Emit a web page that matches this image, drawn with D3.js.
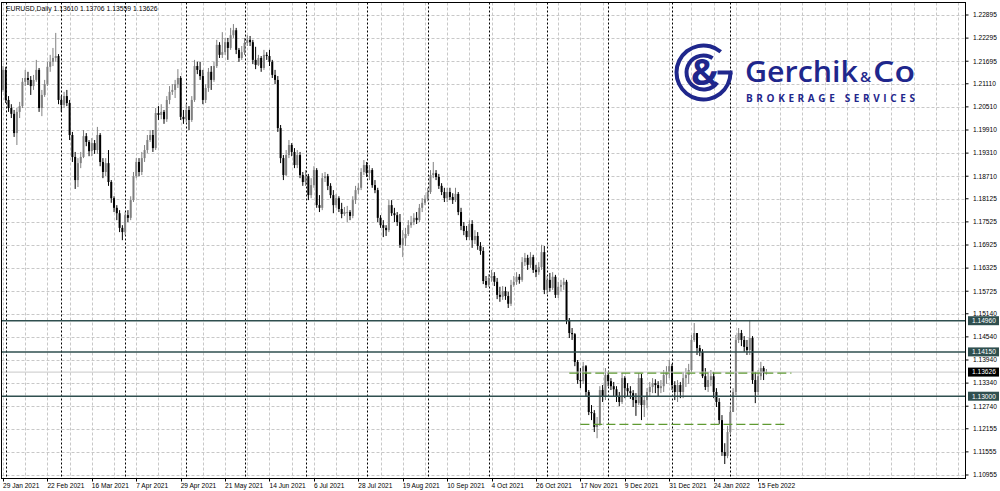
<!DOCTYPE html>
<html><head><meta charset="utf-8">
<script src="https://cdn.jsdelivr.net/npm/d3@7"></script>
<style>html,body{margin:0;padding:0;background:#fff;}svg{display:block;}</style>
</head><body>
<svg id="c" width="1000" height="491"></svg>
<script>
const symbolTitle = "EURUSD,Daily";
const lastQuote = [1.13610, 1.13706, 1.13559, 1.13626];

const open = [
1.2095,1.2147,1.2069,1.2048,1.2033,1.1983,1.2038,1.2053,1.2116,1.2126,
1.2121,1.2105,1.2121,1.2147,1.2048,1.2082,1.2110,1.2155,1.2168,1.2178,
1.2183,1.2069,1.2056,1.2079,1.2061,1.1978,1.1921,1.1861,1.1905,1.1921,
1.1975,1.1960,1.1936,1.1957,1.1939,1.1978,1.1908,1.1882,1.1905,1.1856,
1.1814,1.1789,1.1775,1.1737,1.1726,1.1770,1.1763,1.1809,1.1871,1.1908,
1.1882,1.1918,1.1939,1.1965,1.1978,1.1944,1.2035,1.2030,1.2038,1.2019,
1.2069,1.2090,1.2095,1.2110,1.2126,1.2025,1.2019,1.2043,1.2017,1.2069,
1.2157,1.2147,1.2131,1.2069,1.2100,1.2142,1.2121,1.2157,1.2212,1.2186,
1.2193,1.2219,1.2204,1.2237,1.2250,1.2199,1.2178,1.2193,1.2217,1.2225,
1.2219,1.2173,1.2160,1.2178,1.2152,1.2186,1.2183,1.2168,1.2134,1.2121,
1.1996,1.1918,1.1874,1.1926,1.1952,1.1934,1.1900,1.1926,1.1874,1.1856,
1.1871,1.1822,1.1848,1.1887,1.1796,1.1789,1.1866,1.1871,1.1846,1.1822,
1.1796,1.1814,1.1786,1.1773,1.1778,1.1778,1.1768,1.1809,1.1835,1.1841,
1.1882,1.1900,1.1879,1.1887,1.1848,1.1835,1.1763,1.1744,1.1737,1.1731,
1.1796,1.1775,1.1770,1.1752,1.1693,1.1710,1.1721,1.1744,1.1752,1.1763,
1.1757,1.1789,1.1802,1.1812,1.1830,1.1874,1.1879,1.1869,1.1846,1.1830,
1.1814,1.1830,1.1817,1.1809,1.1825,1.1778,1.1742,1.1729,1.1713,1.1747,
1.1705,1.1716,1.1690,1.1677,1.1599,1.1589,1.1607,1.1612,1.1597,1.1563,
1.1558,1.1573,1.1560,1.1540,1.1589,1.1597,1.1610,1.1602,1.1648,1.1659,
1.1641,1.1661,1.1628,1.1622,1.1635,1.1674,1.1576,1.1602,1.1581,1.1610,
1.1563,1.1584,1.1589,1.1597,1.1498,1.1464,1.1461,1.1389,1.1342,1.1339,
1.1378,1.1311,1.1259,1.1256,1.1220,1.1228,1.1316,1.1298,1.1355,1.1339,
1.1326,1.1318,1.1298,1.1285,1.1347,1.1321,1.1313,1.1308,1.1290,1.1282,
1.1347,1.1277,1.1290,1.1311,1.1324,1.1334,1.1329,1.1321,1.1326,1.1355,
1.1363,1.1378,1.1329,1.1311,1.1329,1.1311,1.1347,1.1355,1.1368,1.1446,
1.1464,1.1425,1.1415,1.1352,1.1324,1.1342,1.1352,1.1311,1.1285,1.1238,
1.1155,1.1145,1.1207,1.1259,1.1311,1.1446,1.1464,1.1446,1.1428,1.1420,
1.1451,1.1342,1.1311,1.1352,1.1373,1.13610];

const high = [
1.2157,1.2155,1.2079,1.2058,1.2043,1.2048,1.2064,1.2126,1.2147,1.2142,
1.2131,1.2134,1.2173,1.2152,1.2095,1.2121,1.2168,1.2186,1.2204,1.2243,
1.2188,1.2079,1.2090,1.2095,1.2069,1.1986,1.1934,1.1918,1.1934,1.1991,
1.1983,1.1965,1.1970,1.1965,1.1999,1.1983,1.1918,1.1918,1.1939,1.1861,
1.1819,1.1796,1.1783,1.1744,1.1778,1.1783,1.1819,1.1882,1.1918,1.1918,
1.1934,1.1952,1.1978,1.1991,1.1991,1.2048,1.2053,1.2058,1.2043,1.2079,
1.2105,1.2110,1.2121,1.2149,1.2131,1.2043,1.2058,1.2053,1.2079,1.2173,
1.2168,1.2168,1.2147,1.2110,1.2152,1.2157,1.2168,1.2225,1.2219,1.2245,
1.2230,1.2230,1.2256,1.2266,1.2256,1.2204,1.2209,1.2230,1.2237,1.2235,
1.2225,1.2207,1.2186,1.2183,1.2199,1.2193,1.2199,1.2173,1.2147,1.2131,
1.2004,1.1926,1.1939,1.1965,1.1957,1.1944,1.1939,1.1934,1.1882,1.1887,
1.1877,1.1866,1.1897,1.1892,1.1822,1.1879,1.1882,1.1877,1.1853,1.1835,
1.1825,1.1819,1.1802,1.1791,1.1794,1.1783,1.1819,1.1846,1.1853,1.1892,
1.1913,1.1908,1.1900,1.1892,1.1861,1.1841,1.1770,1.1757,1.1744,1.1809,
1.1809,1.1789,1.1778,1.1773,1.1731,1.1737,1.1757,1.1768,1.1775,1.1778,
1.1799,1.1814,1.1822,1.1841,1.1887,1.1908,1.1887,1.1877,1.1853,1.1841,
1.1841,1.1841,1.1827,1.1841,1.1830,1.1789,1.1752,1.1742,1.1757,1.1757,
1.1731,1.1726,1.1700,1.1687,1.1612,1.1617,1.1628,1.1622,1.1607,1.1584,
1.1586,1.1584,1.1571,1.1602,1.1612,1.1622,1.1617,1.1661,1.1672,1.1667,
1.1674,1.1667,1.1641,1.1648,1.1693,1.1690,1.1612,1.1620,1.1622,1.1615,
1.1597,1.1602,1.1607,1.1602,1.1503,1.1477,1.1464,1.1394,1.1373,1.1389,
1.1381,1.1316,1.1277,1.1264,1.1246,1.1326,1.1329,1.1373,1.1363,1.1347,
1.1337,1.1326,1.1311,1.1360,1.1352,1.1334,1.1326,1.1316,1.1308,1.1360,
1.1358,1.1300,1.1321,1.1337,1.1347,1.1344,1.1339,1.1342,1.1368,1.1378,
1.1394,1.1384,1.1339,1.1342,1.1337,1.1363,1.1373,1.1384,1.1459,1.1490,
1.1464,1.1433,1.1422,1.1373,1.1363,1.1368,1.1363,1.1321,1.1295,1.1251,
1.1178,1.1223,1.1275,1.1321,1.1459,1.1477,1.1472,1.1456,1.1446,1.1498,
1.1456,1.1363,1.1368,1.1389,1.1378,1.13706];

const low = [
1.2090,1.2061,1.2038,1.2022,1.1973,1.1952,1.2022,1.2048,1.2105,1.2108,
1.2082,1.2095,1.2116,1.2038,1.2027,1.2077,1.2105,1.2142,1.2157,1.2168,
1.2058,1.2038,1.2048,1.2053,1.1965,1.1908,1.1838,1.1843,1.1892,1.1918,
1.1949,1.1923,1.1923,1.1929,1.1929,1.1897,1.1866,1.1871,1.1846,1.1802,
1.1778,1.1757,1.1726,1.1705,1.1718,1.1752,1.1757,1.1804,1.1866,1.1871,
1.1874,1.1908,1.1931,1.1960,1.1934,1.1939,1.2017,1.2019,1.2007,1.2012,
1.2058,1.2082,1.2074,1.2100,1.2017,1.2007,1.2012,1.1991,1.2012,1.2064,
1.2136,1.2121,1.2058,1.2061,1.2090,1.2095,1.2116,1.2152,1.2178,1.2178,
1.2186,1.2173,1.2199,1.2230,1.2188,1.2168,1.2173,1.2186,1.2209,1.2209,
1.2162,1.2149,1.2157,1.2142,1.2147,1.2173,1.2157,1.2126,1.2110,1.1986,
1.1905,1.1861,1.1871,1.1918,1.1923,1.1892,1.1892,1.1866,1.1846,1.1846,
1.1809,1.1814,1.1841,1.1789,1.1778,1.1783,1.1856,1.1835,1.1814,1.1775,
1.1789,1.1778,1.1762,1.1768,1.1752,1.1757,1.1762,1.1799,1.1825,1.1835,
1.1874,1.1869,1.1861,1.1841,1.1827,1.1752,1.1737,1.1713,1.1716,1.1726,
1.1768,1.1752,1.1742,1.1685,1.1661,1.1690,1.1716,1.1737,1.1744,1.1747,
1.1752,1.1778,1.1796,1.1806,1.1825,1.1866,1.1861,1.1838,1.1822,1.1804,
1.1804,1.1809,1.1799,1.1804,1.1770,1.1731,1.1718,1.1705,1.1705,1.1685,
1.1695,1.1680,1.1667,1.1591,1.1581,1.1584,1.1597,1.1586,1.1552,1.1545,
1.1550,1.1550,1.1529,1.1534,1.1584,1.1589,1.1592,1.1597,1.1638,1.1628,
1.1633,1.1620,1.1609,1.1615,1.1628,1.1565,1.1565,1.1571,1.1576,1.1555,
1.1555,1.1571,1.1576,1.1487,1.1451,1.1446,1.1378,1.1332,1.1321,1.1332,
1.1300,1.1251,1.1238,1.1207,1.1191,1.1223,1.1285,1.1290,1.1326,1.1316,
1.1300,1.1285,1.1274,1.1280,1.1295,1.1300,1.1293,1.1272,1.1249,1.1277,
1.1238,1.1246,1.1269,1.1300,1.1308,1.1308,1.1300,1.1308,1.1311,1.1332,
1.1347,1.1316,1.1290,1.1285,1.1295,1.1295,1.1324,1.1332,1.1363,1.1441,
1.1407,1.1404,1.1347,1.1316,1.1311,1.1326,1.1295,1.1272,1.1228,1.1145,
1.1124,1.1139,1.1202,1.1259,1.1303,1.1438,1.1430,1.1415,1.1407,1.1407,
1.1332,1.1282,1.1303,1.1342,1.1342,1.13559];

const close = [
1.2147,1.2069,1.2048,1.2033,1.1983,1.2038,1.2053,1.2116,1.2126,1.2121,
1.2105,1.2121,1.2147,1.2048,1.2082,1.2110,1.2155,1.2168,1.2178,1.2183,
1.2069,1.2056,1.2079,1.2061,1.1978,1.1921,1.1861,1.1905,1.1921,1.1975,
1.1960,1.1936,1.1957,1.1939,1.1978,1.1908,1.1882,1.1905,1.1856,1.1814,
1.1789,1.1775,1.1737,1.1726,1.1770,1.1763,1.1809,1.1871,1.1908,1.1882,
1.1918,1.1939,1.1965,1.1978,1.1944,1.2035,1.2030,1.2038,1.2019,1.2069,
1.2090,1.2095,1.2110,1.2126,1.2025,1.2019,1.2043,1.2017,1.2069,1.2157,
1.2147,1.2131,1.2069,1.2100,1.2142,1.2121,1.2157,1.2212,1.2186,1.2193,
1.2219,1.2204,1.2237,1.2250,1.2199,1.2178,1.2193,1.2217,1.2225,1.2219,
1.2173,1.2160,1.2178,1.2152,1.2186,1.2183,1.2168,1.2134,1.2121,1.1996,
1.1918,1.1874,1.1926,1.1952,1.1934,1.1900,1.1926,1.1874,1.1856,1.1871,
1.1822,1.1848,1.1887,1.1796,1.1789,1.1866,1.1871,1.1846,1.1822,1.1796,
1.1814,1.1786,1.1773,1.1778,1.1778,1.1768,1.1809,1.1835,1.1841,1.1882,
1.1900,1.1879,1.1887,1.1848,1.1835,1.1763,1.1744,1.1737,1.1731,1.1796,
1.1775,1.1770,1.1752,1.1693,1.1710,1.1721,1.1744,1.1752,1.1763,1.1757,
1.1789,1.1802,1.1812,1.1830,1.1874,1.1879,1.1869,1.1846,1.1830,1.1814,
1.1830,1.1817,1.1809,1.1825,1.1778,1.1742,1.1729,1.1713,1.1747,1.1705,
1.1716,1.1690,1.1677,1.1599,1.1589,1.1607,1.1612,1.1597,1.1563,1.1558,
1.1573,1.1560,1.1540,1.1589,1.1597,1.1610,1.1602,1.1648,1.1659,1.1641,
1.1661,1.1628,1.1622,1.1635,1.1674,1.1576,1.1602,1.1581,1.1610,1.1563,
1.1584,1.1589,1.1597,1.1498,1.1464,1.1461,1.1389,1.1342,1.1339,1.1378,
1.1311,1.1259,1.1256,1.1220,1.1228,1.1316,1.1298,1.1355,1.1339,1.1326,
1.1318,1.1298,1.1285,1.1347,1.1321,1.1313,1.1308,1.1290,1.1282,1.1347,
1.1277,1.1290,1.1311,1.1324,1.1334,1.1329,1.1321,1.1326,1.1355,1.1363,
1.1378,1.1329,1.1311,1.1329,1.1311,1.1347,1.1355,1.1368,1.1446,1.1464,
1.1425,1.1415,1.1352,1.1324,1.1342,1.1352,1.1311,1.1285,1.1238,1.1155,
1.1145,1.1207,1.1259,1.1311,1.1446,1.1464,1.1446,1.1428,1.1420,1.1451,
1.1342,1.1311,1.1352,1.1373,1.13610,1.13626];

const dateLabels = ["29 Jan 2021","22 Feb 2021","16 Mar 2021","7 Apr 2021","29 Apr 2021","21 May 2021",
  "14 Jun 2021","6 Jul 2021","28 Jul 2021","19 Aug 2021","10 Sep 2021","4 Oct 2021","26 Oct 2021",
  "17 Nov 2021","9 Dec 2021","31 Dec 2021","24 Jan 2022","15 Feb 2022"];
const barsPerLabel = 16;
const barsPerGrid = 8;
const priceTicks = [1.22895,1.22295,1.21695,1.21110,1.20510,1.19910,1.19310,1.18710,1.18125,1.17525,
  1.16925,1.16325,1.15725,1.15140,1.14540,1.13940,1.13340,1.12740,1.12155,1.11555,1.10955];
const monthStartBars = [1,21,44,66,87,109,131,153,175,196,218,241,262];
const levelLines = [1.14960, 1.14150, 1.13000];
const rangeLines = [
  {price: 1.1360, fromBar: 204, toBar: 284},
  {price: 1.1227, fromBar: 208, toBar: 282}
];

const svg = d3.select("#c");
const FONT = "'Liberation Sans', Arial, sans-serif";
const L = 1.5, R = 965.5, T = 2.5, B = 478.5;
const nBars = close.length;
const x = d3.scaleLinear().domain([0, nBars - 1]).range([3, 766.4]);
const y = d3.scaleLinear().domain([priceTicks[priceTicks.length - 1], priceTicks[0]]).range([475, 15]);

svg.append("rect").attr("width", 1000).attr("height", 491).attr("fill", "#fff");
svg.append("defs").append("clipPath").attr("id", "plot")
  .append("rect").attr("x", L).attr("y", T).attr("width", R - L).attr("height", B - T);
const plot = svg.append("g").attr("clip-path", "url(#plot)");

// grid
plot.append("g").selectAll("line").data(priceTicks).join("line")
  .attr("x1", L).attr("x2", R).attr("y1", d => Math.round(y(d)) + 0.5).attr("y2", d => Math.round(y(d)) + 0.5)
  .attr("stroke", "#c8c8c8").attr("stroke-width", 1).attr("stroke-dasharray", "3,2");
const gridBars = d3.range(0, 400, barsPerGrid).filter(i => x(i) > L + 1 && x(i) < R);
plot.append("g").selectAll("line").data(gridBars).join("line")
  .attr("x1", d => Math.round(x(d)) + 0.5).attr("x2", d => Math.round(x(d)) + 0.5).attr("y1", T).attr("y2", B)
  .attr("stroke", "#c8c8c8").attr("stroke-width", 1).attr("stroke-dasharray", "3,2");

// period separators
plot.append("g").selectAll("line").data(monthStartBars).join("line")
  .attr("x1", d => Math.round(x(d)) + 0.5).attr("x2", d => Math.round(x(d)) + 0.5).attr("y1", T).attr("y2", B)
  .attr("stroke", "#000").attr("stroke-width", 1).attr("stroke-dasharray", "2,2");

// candles
const bars = d3.range(nBars).map(i => ({i, o: open[i], h: high[i], l: low[i], c: close[i]}));
const col = d => d.c >= d.o ? "#808080" : "#000";
const cg = plot.append("g");
cg.selectAll("line").data(bars).join("line")
  .attr("x1", d => x(d.i)).attr("x2", d => x(d.i))
  .attr("y1", d => y(d.h)).attr("y2", d => y(d.l))
  .attr("stroke", col).attr("stroke-width", 1);
cg.selectAll("rect").data(bars).join("rect")
  .attr("x", d => x(d.i) - 1).attr("width", 2)
  .attr("y", d => y(Math.max(d.o, d.c)))
  .attr("height", d => Math.max(1, Math.abs(y(d.o) - y(d.c))))
  .attr("fill", col);

// bid line
plot.append("line").attr("x1", L).attr("x2", R)
  .attr("y1", y(lastQuote[3])).attr("y2", y(lastQuote[3]))
  .attr("stroke", "#c8c8c8").attr("stroke-width", 1);

// level lines
plot.append("g").selectAll("line").data(levelLines).join("line")
  .attr("x1", L).attr("x2", R).attr("y1", d => y(d)).attr("y2", d => y(d))
  .attr("stroke", "#2f4f4f").attr("stroke-width", 1.5);

// range dashed lines
plot.append("g").selectAll("line").data(rangeLines).join("line")
  .attr("x1", d => x(d.fromBar)).attr("x2", d => x(d.toBar))
  .attr("y1", d => y(d.price)).attr("y2", d => y(d.price))
  .attr("stroke", "#5f9a32").attr("stroke-width", 1.4).attr("stroke-dasharray", "9,4");

// frame
svg.append("rect").attr("x", L).attr("y", T).attr("width", R - L).attr("height", B - T)
  .attr("fill", "none").attr("stroke", "#000").attr("stroke-width", 1);

// title
svg.append("text").attr("x", 6).attr("y", 11).attr("font-family", FONT).attr("font-size", 6.8)
  .attr("fill", "#000").text(symbolTitle + "  " + lastQuote.map(v => v.toFixed(5)).join(" "));

// price axis
const pa = svg.append("g");
pa.selectAll("line").data(priceTicks).join("line")
  .attr("x1", R).attr("x2", R + 3).attr("y1", d => y(d)).attr("y2", d => y(d))
  .attr("stroke", "#000").attr("stroke-width", 1);
pa.selectAll("text").data(priceTicks).join("text")
  .attr("x", 973).attr("y", d => y(d) + 2.3)
  .attr("font-family", FONT).attr("font-size", 6.6).attr("fill", "#000")
  .text(d => d.toFixed(5));

const tags = levelLines.map(v => ({v, bg: "#2f4f4f"})).concat([{v: lastQuote[3], bg: "#000"}]);
const tg = svg.append("g");
tg.selectAll("rect").data(tags).join("rect")
  .attr("x", 968).attr("width", 31).attr("y", d => y(d.v) - 4.5).attr("height", 9)
  .attr("fill", d => d.bg);
tg.selectAll("text").data(tags).join("text")
  .attr("x", 972).attr("y", d => y(d.v) + 2.3)
  .attr("font-family", FONT).attr("font-size", 6.6).attr("fill", "#fff")
  .text(d => d.v.toFixed(5));

// time axis
const ta = svg.append("g");
ta.selectAll("line").data(dateLabels).join("line")
  .attr("x1", (d, k) => Math.round(x(k * barsPerLabel)) + 0.5).attr("x2", (d, k) => Math.round(x(k * barsPerLabel)) + 0.5)
  .attr("y1", B).attr("y2", B + 3).attr("stroke", "#000");
ta.selectAll("text").data(dateLabels).join("text")
  .attr("x", (d, k) => x(k * barsPerLabel)).attr("y", 487.5)
  .attr("font-family", FONT).attr("font-size", 6.6).attr("fill", "#000")
  .text(d => d);

// logo
const navy = "#1f278c";
const logo = svg.append("g");
const cx = 703.5, cy = 72.5;
const lg = logo.append("g").attr("transform", `translate(${cx},${cy})`);
lg.append("path").attr("fill", navy)
  .attr("d", d3.arc()({innerRadius: 25, outerRadius: 29, startAngle: Math.PI * 0.5, endAngle: Math.PI * 2 + Math.PI * 0.22}));
lg.append("path").attr("fill", navy)
  .attr("d", d3.arc()({innerRadius: 15, outerRadius: 19, startAngle: Math.PI * 0.7, endAngle: Math.PI * 2 + Math.PI * 0.18}));
lg.append("rect").attr("x", 14).attr("y", -2).attr("width", 15).attr("height", 4).attr("fill", navy);
lg.append("text").attr("x", 1).attr("y", 12).attr("text-anchor", "middle")
  .attr("font-family", "'Open Sans', sans-serif").attr("font-weight", 700).attr("font-size", 36)
  .attr("fill", navy).text("&");
const LF = "'Open Sans', sans-serif";
logo.append("text").attr("x", 745).attr("y", 82.3).attr("font-family", LF).attr("font-weight", 600)
  .attr("font-size", 28).attr("fill", navy).attr("textLength", 113).attr("lengthAdjust", "spacingAndGlyphs").text("Gerchik");
logo.append("text").attr("x", 860).attr("y", 82.3).attr("font-family", LF).attr("font-weight", 600)
  .attr("font-size", 15).attr("fill", navy).text("&");
logo.append("text").attr("x", 873).attr("y", 82.3).attr("font-family", LF).attr("font-weight", 600)
  .attr("font-size", 28).attr("fill", navy).attr("textLength", 42).attr("lengthAdjust", "spacingAndGlyphs").text("Co");
logo.append("text").attr("x", 746).attr("y", 101.5).attr("font-family", LF).attr("font-weight", 700)
  .attr("font-size", 10).attr("fill", navy).attr("textLength", 169).attr("lengthAdjust", "spacing").text("BROKERAGE SERVICES");
</script>
</body></html>
